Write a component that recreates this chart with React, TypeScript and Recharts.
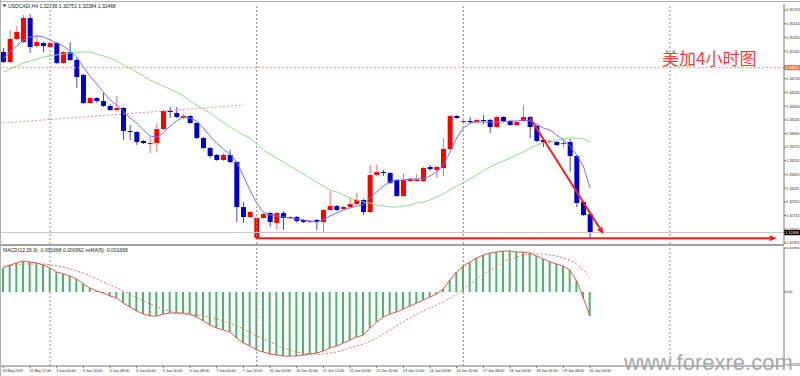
import React from 'react';
import { ComposedChart, Bar, Line, XAxis, YAxis, ReferenceLine } from 'recharts';

const opens = [
  1.35098,1.34953,1.35288,1.35244,1.35594,1.35186,1.35229,1.35171,1.35229,1.34938,
  1.35098,1.34982,1.34763,1.34355,1.34428,1.34384,1.34312,1.34253,1.34282,1.33947,
  1.33933,1.33802,1.33765,1.33772,1.33976,1.34239,1.34210,1.34137,1.34166,1.34064,
  1.33845,1.33700,1.33598,1.33525,1.33598,1.33495,1.32840,1.32694,1.32389,1.32680,
  1.32752,1.32607,1.32752,1.32680,1.32694,1.32651,1.32621,1.32651,1.32621,1.32796,
  1.32854,1.32811,1.32840,1.32884,1.32942,1.32767,1.33306,1.33350,1.33335,1.33233,
  1.33000,1.33219,1.33219,1.33219,1.33423,1.33379,1.33408,1.33685,1.34166,1.34078,
  1.34093,1.34078,1.34108,1.34108,1.34006,1.34151,1.34093,1.34035,1.34093,1.34151,
  1.34020,1.33816,1.33787,1.33787,1.33758,1.33787,1.33583,1.32913,1.32736,
];
const highs = [
  1.35157,1.35419,1.35477,1.35637,1.35652,1.35346,1.35244,1.35244,1.35244,1.35113,
  1.35244,1.35011,1.34778,1.34443,1.34443,1.34501,1.34341,1.34457,1.34297,1.34035,
  1.33947,1.33816,1.33860,1.34064,1.34253,1.34297,1.34297,1.34195,1.34180,1.34078,
  1.33860,1.33714,1.33612,1.33627,1.33671,1.33510,1.32913,1.32782,1.32694,1.32752,
  1.32767,1.32767,1.32782,1.32709,1.32709,1.32665,1.32651,1.32665,1.32811,1.33073,
  1.32869,1.32854,1.32971,1.33044,1.32957,1.33452,1.33452,1.33379,1.33350,1.33248,
  1.33335,1.33262,1.33321,1.33423,1.33452,1.33437,1.33845,1.34180,1.34180,1.34108,
  1.34151,1.34122,1.34180,1.34122,1.34166,1.34166,1.34108,1.34093,1.34326,1.34166,
  1.34035,1.33831,1.33816,1.33802,1.33831,1.33831,1.33598,1.32927,1.32751,
];
const lows = [
  1.34938,1.34938,1.35273,1.35229,1.35084,1.35157,1.35098,1.35157,1.34923,1.34923,
  1.34967,1.34574,1.34341,1.34341,1.34355,1.34297,1.34239,1.34224,1.33816,1.33816,
  1.33743,1.33758,1.33627,1.33641,1.33962,1.34137,1.34137,1.34122,1.34049,1.33831,
  1.33685,1.33554,1.33510,1.33510,1.33481,1.32621,1.32607,1.32680,1.32384,1.32665,
  1.32549,1.32505,1.32505,1.32665,1.32607,1.32607,1.32607,1.32505,1.32476,1.32782,
  1.32782,1.32796,1.32825,1.32869,1.32723,1.32752,1.33292,1.33292,1.33175,1.32986,
  1.32986,1.33204,1.33204,1.33204,1.33364,1.33262,1.33292,1.33671,1.34122,1.34064,
  1.34049,1.34064,1.34049,1.33918,1.33991,1.34078,1.34020,1.34020,1.34078,1.33845,
  1.33787,1.33714,1.33772,1.33729,1.33700,1.33350,1.32840,1.32709,1.32384,
];
const closes = [
  1.34953,1.35288,1.35390,1.35594,1.35171,1.35244,1.35186,1.35229,1.34938,1.35098,
  1.34982,1.34734,1.34355,1.34428,1.34384,1.34312,1.34253,1.34282,1.33947,1.33933,
  1.33787,1.33772,1.33772,1.33976,1.34239,1.34224,1.34151,1.34166,1.34064,1.33845,
  1.33700,1.33583,1.33525,1.33598,1.33495,1.32840,1.32694,1.32767,1.32680,1.32738,
  1.32621,1.32752,1.32680,1.32694,1.32636,1.32621,1.32636,1.32621,1.32796,1.32854,
  1.32796,1.32840,1.32884,1.32942,1.32767,1.33306,1.33350,1.33335,1.33190,1.33000,
  1.33233,1.33248,1.33241,1.33408,1.33393,1.33423,1.33685,1.34166,1.34137,1.34093,
  1.34078,1.34108,1.34093,1.34006,1.34151,1.34093,1.34035,1.34078,1.34151,1.34006,
  1.33802,1.33787,1.33802,1.33743,1.33772,1.33583,1.32898,1.32723,1.32468,
];
const fastMA = [
  1.35011,1.35098,1.35186,1.35273,1.35317,1.35332,1.35317,1.35273,1.35230,1.35186,
  1.35113,1.35026,1.34880,1.34749,1.34632,1.34516,1.34399,1.34326,1.34239,1.34137,
  1.34064,1.33962,1.33874,1.33860,1.33918,1.34020,1.34093,1.34151,1.34137,1.34093,
  1.33991,1.33874,1.33772,1.33685,1.33612,1.33495,1.33292,1.33088,1.32898,1.32767,
  1.32723,1.32709,1.32694,1.32680,1.32665,1.32651,1.32636,1.32621,1.32651,1.32709,
  1.32752,1.32796,1.32825,1.32854,1.32869,1.32971,1.33059,1.33146,1.33204,1.33233,
  1.33233,1.33248,1.33248,1.33248,1.33292,1.33350,1.33452,1.33641,1.33845,1.33991,
  1.34064,1.34078,1.34078,1.34078,1.34078,1.34078,1.34093,1.34093,1.34108,1.34093,
  1.34049,1.33991,1.33962,1.33889,1.33816,1.33729,1.33598,1.33437,1.33117,
];
const slowMA = [
  1.34807,1.34851,1.34894,1.34938,1.34967,1.34996,1.35026,1.35040,1.35055,1.35069,
  1.35084,1.35098,1.35098,1.35098,1.35069,1.35040,1.35011,1.34967,1.34909,1.34865,
  1.34807,1.34749,1.34690,1.34647,1.34603,1.34559,1.34516,1.34457,1.34384,1.34326,
  1.34268,1.34210,1.34137,1.34078,1.34006,1.33947,1.33889,1.33845,1.33758,1.33671,
  1.33612,1.33554,1.33495,1.33437,1.33379,1.33321,1.33262,1.33204,1.33146,1.33088,
  1.33059,1.33015,1.32971,1.32942,1.32913,1.32898,1.32869,1.32854,1.32840,1.32840,
  1.32854,1.32869,1.32898,1.32913,1.32942,1.32986,1.33029,1.33088,1.33146,1.33190,
  1.33248,1.33306,1.33364,1.33423,1.33467,1.33510,1.33554,1.33598,1.33641,1.33700,
  1.33743,1.33772,1.33787,1.33816,1.33831,1.33845,1.33845,1.33831,1.33787,
];
const macdMain = [
  0.000528,0.000594,0.000638,0.000682,0.000660,0.000638,0.000594,0.000528,0.000440,0.000396,
  0.000352,0.000286,0.000176,0.000088,0.000022,-0.000022,-0.000088,-0.000132,-0.000242,-0.000330,
  -0.000418,-0.000484,-0.000528,-0.000528,-0.000484,-0.000462,-0.000462,-0.000462,-0.000484,-0.000550,
  -0.000638,-0.000726,-0.000792,-0.000836,-0.000880,-0.001012,-0.001122,-0.001188,-0.001276,-0.001320,
  -0.001364,-0.001386,-0.001408,-0.001408,-0.001408,-0.001386,-0.001364,-0.001342,-0.001298,-0.001232,
  -0.001188,-0.001122,-0.001056,-0.000990,-0.000946,-0.000792,-0.000660,-0.000550,-0.000484,-0.000440,
  -0.000374,-0.000308,-0.000242,-0.000176,-0.000110,-0.000044,0.000066,0.000264,0.000440,0.000572,
  0.000660,0.000748,0.000814,0.000858,0.000880,0.000902,0.000902,0.000880,0.000880,0.000858,
  0.000792,0.000726,0.000660,0.000616,0.000572,0.000484,0.000242,-0.000132,-0.000528,
];
const macdSignal = [
  0.000572,0.000594,0.000594,0.000616,0.000616,0.000616,0.000616,0.000594,0.000572,0.000550,
  0.000506,0.000462,0.000418,0.000352,0.000286,0.000220,0.000154,0.000088,0.000022,-0.000044,
  -0.000132,-0.000198,-0.000264,-0.000330,-0.000374,-0.000418,-0.000462,-0.000484,-0.000506,-0.000506,
  -0.000528,-0.000550,-0.000594,-0.000638,-0.000682,-0.000748,-0.000814,-0.000880,-0.000968,-0.001034,
  -0.001100,-0.001166,-0.001232,-0.001276,-0.001320,-0.001342,-0.001364,-0.001364,-0.001364,-0.001342,
  -0.001320,-0.001276,-0.001232,-0.001188,-0.001144,-0.001078,-0.001012,-0.000924,-0.000836,-0.000748,
  -0.000660,-0.000572,-0.000484,-0.000418,-0.000352,-0.000286,-0.000220,-0.000132,-0.000044,0.000066,
  0.000176,0.000286,0.000396,0.000484,0.000572,0.000660,0.000726,0.000770,0.000814,0.000836,
  0.000836,0.000836,0.000814,0.000792,0.000748,0.000704,0.000616,0.000484,0.000308,
];
const timeLabels = [
  '30 May 2019','31 May 12:00','3 Jun 00:00','3 Jun 16:00','4 Jun 08:00','5 Jun 00:00',
  '5 Jun 16:00','6 Jun 08:00','7 Jun 00:00','7 Jun 16:00','10 Jun 04:00','10 Jun 20:00',
  '11 Jun 12:00','12 Jun 04:00','12 Jun 20:00','13 Jun 12:00','14 Jun 04:00','14 Jun 20:00',
  '17 Jun 08:00','18 Jun 00:00','18 Jun 16:00','19 Jun 08:00','20 Jun 00:00',
];
const priceTicks = [
  1.35710,1.35510,1.35310,1.35110,1.34710,1.34510,1.34310,1.34110,1.33910,
  1.33715,1.33515,1.33315,1.33115,1.32915,1.32715,1.32515,1.32315,
];
const macdTicks = [0.000968, 0, -0.001591];
const weekSeparators = [7, 38, 69, 100];
const levelPrice = 1.34871;
const bidPrice = 1.32468;
const supportPrice = 1.32384;
const trendDotted = [{ x: 0, y: 1.34064 }, { x: 36, y: 1.34326 }];
const trendDown = [{ x: 79, y: 1.34137 }, { x: 90, y: 1.32447 }];
const supportSeg = [{ x: 38, y: supportPrice }, { x: 116, y: supportPrice }];

const SLOTS = 117;
const LABEL_STEP = 4;

const mainData = Array.from({ length: SLOTS }, (_, i) =>
  i < opens.length
    ? { i, open: opens[i], high: highs[i], low: lows[i], close: closes[i], range: [lows[i], highs[i]], fast: fastMA[i], slow: slowMA[i] }
    : { i }
);
const macdData = Array.from({ length: SLOTS }, (_, i) =>
  i < macdMain.length ? { i, hist: macdMain[i], line: macdMain[i], signal: macdSignal[i] } : { i }
);
const xTicks = timeLabels.map((_, k) => k * LABEL_STEP);

const FONT = "'Liberation Sans', Arial, sans-serif";

const Candle = (props: any) => {
  const { x, y, width, height, payload } = props;
  if (!payload || payload.open == null) return null;
  const top = Math.min(y, y + height);
  const h = Math.abs(height);
  const span = payload.high - payload.low;
  const k = span > 0 ? h / span : 0;
  const yO = top + (payload.high - payload.open) * k;
  const yC = top + (payload.high - payload.close) * k;
  const up = payload.close >= payload.open;
  const cx = x + width / 2;
  const body = up ? '#ff0000' : '#0000c8';
  const wick = up ? '#ff6a6a' : '#4a4ad0';
  const bt = Math.min(yO, yC);
  const bh = Math.max(1, Math.abs(yO - yC));
  return (
    <g>
      <line x1={cx} x2={cx} y1={top} y2={top + h} stroke={wick} strokeWidth={1} />
      <rect x={cx - 2.5} y={bt} width={5} height={bh} fill={body} />
    </g>
  );
};

const ArrowLine = (props: any) => {
  const { x1, y1, x2, y2 } = props;
  if ([x1, y1, x2, y2].some((v) => v == null || isNaN(v))) return null;
  const ang = Math.atan2(y2 - y1, x2 - x1);
  const L = 7, W = 3;
  const bx = x2 - L * Math.cos(ang);
  const by = y2 - L * Math.sin(ang);
  const p1 = `${bx + W * Math.sin(ang)},${by - W * Math.cos(ang)}`;
  const p2 = `${bx - W * Math.sin(ang)},${by + W * Math.cos(ang)}`;
  return (
    <g>
      <line x1={x1} y1={y1} x2={bx} y2={by} stroke="#ff1a1a" strokeWidth={2} />
      <polygon points={`${x2},${y2} ${p1} ${p2}`} fill="#ff1a1a" />
    </g>
  );
};

const PriceTag = (props: any) => {
  const { viewBox, text, bg } = props;
  if (!viewBox) return null;
  const x = viewBox.x + viewBox.width;
  const y = viewBox.y;
  return (
    <g>
      <rect x={x} y={y - 2.7} width={16} height={5.4} fill={bg} />
      <text x={x + 1.5} y={y + 1.4} fontSize={3.7} fill="#fff" fontFamily={FONT}>{text}</text>
    </g>
  );
};

const PriceTick = (props: any) => {
  const { y, payload, digits, size } = props;
  const v = payload.value as number;
  const t = v === 0 ? '0.00' : v.toFixed(digits);
  return (
    <text x={786} y={y + 1.4} fontSize={size} fill="#222" fontFamily={FONT}>{t}</text>
  );
};

const TimeTick = (props: any) => {
  const { x, y, payload } = props;
  const idx = Math.round(payload.value / LABEL_STEP);
  const t = timeLabels[idx];
  if (!t) return null;
  return (
    <text x={x - 0.5} y={y + 1.8} fontSize={4.4} fill="#222" fontFamily={FONT} textAnchor="start" textLength={t.length * 1.78} lengthAdjust="spacingAndGlyphs">{t}</text>
  );
};

export default function App() {
  return (
    <div style={{ position: 'absolute', left: 0, top: 0, width: 800, height: 376, overflow: 'hidden', background: '#fff', fontFamily: FONT }}>
      <div style={{ position: 'absolute', left: 0, top: 0 }}>
        <ComposedChart width={800} height={244} data={mainData} margin={{ top: 4, right: 0, bottom: 0, left: 0 }} barCategoryGap={0}>
          <XAxis dataKey="i" type="category" hide padding={{ left: 0, right: 4 }} />
          <YAxis
            orientation="right"
            domain={[1.32301, 1.35798]}
            ticks={priceTicks}
            interval={0}
            width={16}
            tickSize={2}
            tickMargin={1}
            allowDataOverflow
            tick={<PriceTick digits={5} size={3.8} />}
            axisLine={{ stroke: '#777' }}
            tickLine={{ stroke: '#777' }}
          />
          {weekSeparators.map((s) => (
            <ReferenceLine key={s} x={s} stroke="#8a8a8a" strokeDasharray="2 2" strokeWidth={1} />
          ))}
          <ReferenceLine y={levelPrice} stroke="#f59a7a" strokeDasharray="2 2" label={<PriceTag text={levelPrice.toFixed(5)} bg="#f07a3c" />} />
          <ReferenceLine segment={trendDotted} stroke="#f08a8a" strokeDasharray="2 2" />
          <ReferenceLine y={bidPrice} stroke="#c8c8c8" label={<PriceTag text={bidPrice.toFixed(5)} bg="#000" />} />
          <Bar dataKey="range" shape={Candle} barSize={5} isAnimationActive={false} />
          <Line dataKey="slow" stroke="#8edc8e" strokeWidth={1} dot={false} isAnimationActive={false} />
          <Line dataKey="fast" stroke="#7272f2" strokeWidth={1} dot={false} isAnimationActive={false} />
          <ReferenceLine segment={supportSeg} shape={ArrowLine} />
          <ReferenceLine segment={trendDown} shape={ArrowLine} />
        </ComposedChart>
      </div>
      <div style={{ position: 'absolute', left: 0, top: 244, width: 784, height: 2, background: '#a0a0a0' }} />
      <div style={{ position: 'absolute', left: 0, top: 247 }}>
        <ComposedChart width={800} height={129} data={macdData} margin={{ top: 0, right: 0, bottom: 0, left: 0 }} barCategoryGap={0}>
          <XAxis
            dataKey="i"
            type="category"
            padding={{ left: 0, right: 4 }}
            ticks={xTicks}
            interval={0}
            height={10}
            tickSize={2}
            tickMargin={2}
            tick={TimeTick}
            axisLine={{ stroke: '#777' }}
            tickLine={{ stroke: '#777' }}
          />
          <YAxis
            orientation="right"
            domain={[-0.001628, 0.00099]}
            ticks={macdTicks}
            interval={0}
            width={16}
            tickSize={2}
            tickMargin={1}
            allowDataOverflow
            tick={<PriceTick digits={6} size={3.2} />}
            axisLine={{ stroke: '#777' }}
            tickLine={{ stroke: '#777' }}
          />
          {weekSeparators.map((s) => (
            <ReferenceLine key={s} x={s} stroke="#8a8a8a" strokeDasharray="2 2" strokeWidth={1} />
          ))}
          <Bar dataKey="hist" fill="#48b46c" barSize={2} isAnimationActive={false} />
          <Line dataKey="signal" stroke="#f06a6a" strokeDasharray="2 2" strokeWidth={1} dot={false} isAnimationActive={false} />
          <Line dataKey="line" stroke="#f05050" strokeWidth={1} dot={false} isAnimationActive={false} />
        </ComposedChart>
      </div>
      <svg width={800} height={376} style={{ position: 'absolute', left: 0, top: 0, pointerEvents: 'none' }}>
        <line x1={0} y1={1.5} x2={800} y2={1.5} stroke="#b0b0b0" strokeWidth={1} />
        <line x1={0.5} y1={0} x2={0.5} y2={376} stroke="#b0b0b0" strokeWidth={1} />
        <polygon points="2.5,4.5 6.5,4.5 4.5,7" fill="#333" />
        <text x={8} y={7.5} fontSize={5} fill="#222" fontFamily={FONT}>USDCADi,H4  1.32736 1.32751 1.32384 1.32468</text>
        <text x={3} y={251.5} fontSize={5} fill="#222" fontFamily={FONT}>MACD(12,26,9) -0.001668 0.000962  ssMA(5) -0.001668</text>
        <text x={662} y={65} fontSize={17} fill="#ff3a3a" fontFamily="'Noto Sans CJK SC', sans-serif">美加4小时图</text>
        <text x={624} y={370} fontSize={22} fill="#a8a8a8" fontFamily={FONT}>www.forexre.com</text>
      </svg>
    </div>
  );
}
